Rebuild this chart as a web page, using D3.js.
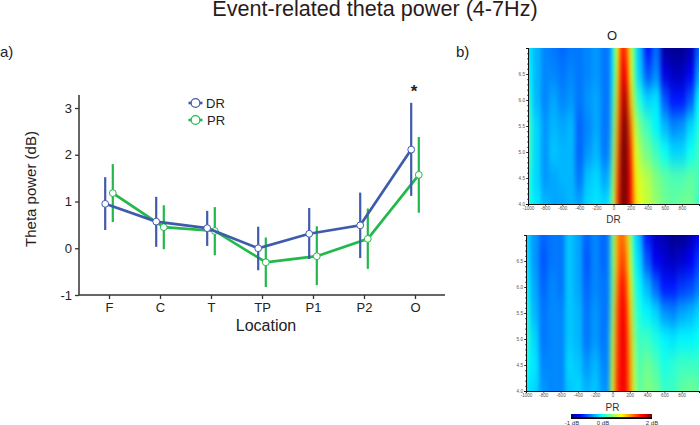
<!DOCTYPE html>
<html>
<head>
<meta charset="utf-8">
<script src="https://cdn.jsdelivr.net/npm/d3@7"></script>
<style>
body { margin: 0; background: #fff; }
svg { display: block; font-family: "Liberation Sans", Arial, sans-serif; }
</style>
</head>
<body>
<div id="chart"></div>
<script>
// line chart data
const locations = ["F", "C", "T", "TP", "P1", "P2", "O"];
const drMean = [0.95, 0.57, 0.43, 0.0, 0.31, 0.49, 2.11];
const drLow = [0.39, 0.03, 0.05, -0.47, -0.23, -0.21, 1.12];
const drHigh = [1.52, 1.10, 0.80, 0.46, 0.86, 1.19, 3.11];
const prMean = [1.18, 0.45, 0.37, -0.30, -0.17, 0.20, 1.57];
const prLow = [0.56, -0.02, -0.15, -0.83, -0.79, -0.44, 0.76];
const prHigh = [1.80, 0.92, 0.88, 0.23, 0.47, 0.85, 2.38];
const yTicks = [-1, 0, 1, 2, 3];

// heatmap data, dB, one row per frequency, one column per time
const times = [-1000, -900, -800, -700, -600, -500, -400, -300, -200, -100, -50, 0, 50, 100, 150, 200, 250, 300, 400, 500, 600, 700, 800, 900, 1000];
const freqs = [7, 6.5, 6, 5.5, 5, 4.5, 4];
const drGrid = [
    [0.05, -0.1, -0.25, -0.3, -0.35, -0.3, -0.3, -0.25, -0.2, -0.3, -0.3, 0.2, 0.9, 1.6, 1.4, 0.8, 0.25, -0.1, -0.6, -0.35, -0.95, -1.0, -1.0, -0.9, -0.4],
    [0.1, -0.1, -0.25, -0.25, -0.3, -0.25, -0.3, -0.25, -0.2, -0.3, -0.3, 0.2, 1.0, 1.7, 1.6, 0.9, 0.3, -0.05, -0.4, -0.25, -0.75, -0.85, -0.85, -0.7, -0.2],
    [0.2, -0.1, -0.25, -0.15, -0.25, -0.2, -0.3, -0.2, -0.15, -0.3, -0.3, 0.3, 1.1, 1.8, 1.85, 1.05, 0.5, 0.2, 0.0, 0.05, -0.4, -0.6, -0.6, -0.4, 0.1],
    [0.3, 0.0, -0.2, -0.1, -0.15, -0.1, -0.35, -0.25, -0.15, -0.3, -0.3, 0.4, 1.2, 1.9, 2.0, 1.3, 0.75, 0.45, 0.3, 0.1, -0.1, -0.25, -0.2, 0.0, 0.2],
    [0.3, 0.0, -0.2, -0.05, -0.1, -0.1, -0.35, -0.2, -0.1, -0.3, -0.25, 0.5, 1.3, 2.0, 2.05, 1.5, 0.85, 0.6, 0.45, 0.3, 0.15, 0.0, 0.0, 0.15, 0.3],
    [0.2, 0.0, -0.2, -0.15, -0.1, -0.1, -0.3, -0.05, 0.0, -0.15, -0.1, 0.6, 1.4, 2.0, 2.05, 1.6, 0.95, 0.75, 0.65, 0.5, 0.4, 0.35, 0.35, 0.4, 0.35],
    [0.2, 0.05, -0.1, -0.15, -0.15, -0.1, -0.15, 0.0, 0.05, 0.0, 0.05, 0.7, 1.5, 2.0, 2.0, 1.6, 1.05, 0.8, 0.7, 0.55, 0.45, 0.4, 0.45, 0.45, 0.3]
];
const prGrid = [
    [0.0, -0.2, -0.35, -0.3, -0.3, -0.05, -0.15, -0.35, -0.25, -0.35, -0.3, 0.4, 1.1, 1.35, 1.2, 0.7, 0.1, -0.1, -0.6, -0.85, -0.9, -1.0, -1.0, -0.9, -0.7],
    [0.05, -0.2, -0.4, -0.3, -0.3, -0.05, -0.15, -0.4, -0.25, -0.35, -0.3, 0.4, 1.1, 1.45, 1.35, 0.8, 0.2, 0.0, -0.4, -0.7, -0.8, -0.85, -0.8, -0.7, -0.5],
    [0.1, -0.15, -0.35, -0.25, -0.3, -0.05, -0.15, -0.35, -0.25, -0.3, -0.3, 0.4, 1.2, 1.6, 1.5, 0.95, 0.35, 0.1, -0.1, -0.35, -0.6, -0.6, -0.5, -0.45, -0.3],
    [0.2, -0.1, -0.3, -0.25, -0.25, -0.05, -0.1, -0.3, -0.2, -0.3, -0.3, 0.5, 1.3, 1.65, 1.6, 1.05, 0.45, 0.2, 0.1, 0.0, -0.2, -0.25, -0.15, -0.1, 0.0],
    [0.25, 0.0, -0.3, -0.25, -0.25, -0.05, -0.1, -0.3, -0.2, -0.3, -0.25, 0.6, 1.35, 1.65, 1.65, 1.15, 0.55, 0.3, 0.3, 0.2, 0.1, 0.05, 0.1, 0.1, 0.15],
    [0.15, 0.05, -0.25, -0.25, -0.25, 0.0, -0.05, -0.2, -0.1, -0.25, -0.25, 0.7, 1.4, 1.65, 1.65, 1.2, 0.65, 0.35, 0.45, 0.35, 0.2, 0.25, 0.3, 0.3, 0.3],
    [0.05, 0.0, -0.2, -0.25, -0.25, -0.05, 0.0, -0.1, -0.05, -0.2, -0.2, 0.75, 1.45, 1.65, 1.65, 1.25, 0.7, 0.4, 0.5, 0.45, 0.3, 0.3, 0.4, 0.45, 0.4]
];
const timeTicks = [-1000, -800, -600, -400, -200, 0, 200, 400, 600, 800];
const freqTicks = [4, 4.5, 5, 5.5, 6, 6.5];
const colorStops = [-1, -0.67, 0.125, 0.875, 1.625, 2];
const colorValues = ["#00008f", "#0000ff", "#00ffff", "#ffff00", "#ff0000", "#800000"];

const blue = "#3f5bab";
const green = "#22b84a";
const axisColor = "#333";

const svg = d3.select("#chart").append("svg")
    .attr("width", 700)
    .attr("height", 425);

const defs = svg.append("defs");
defs.append("filter")
    .attr("id", "soften")
    .attr("filterUnits", "userSpaceOnUse")
    .attr("x", 460).attr("y", 0).attr("width", 300).attr("height", 425)
    .attr("color-interpolation-filters", "sRGB")
    .append("feGaussianBlur")
    .attr("stdDeviation", "2.2 9");

// titles
svg.append("text").attr("x", 375).attr("y", 16)
    .attr("text-anchor", "middle").attr("font-size", 21.6).attr("fill", "#2a1a1a")
    .text("Event-related theta power (4-7Hz)");
svg.append("text").attr("x", 0).attr("y", 57).attr("font-size", 15).attr("fill", "#222").text("a)");
svg.append("text").attr("x", 456).attr("y", 57).attr("font-size", 15).attr("fill", "#222").text("b)");

// ---- line chart ----
const x = d3.scalePoint().domain(locations).range([109, 415]);
const y = d3.scaleLinear().domain([-1, 3]).range([295, 108]);
const offset = 3.8;

const xAxis = d3.axisBottom(x).tickSize(4).tickPadding(4);
const yAxis = d3.axisLeft(y).tickValues(yTicks).tickSize(4).tickPadding(3).tickFormat(String);

const xG = svg.append("g").attr("transform", "translate(0,295)").call(xAxis);
const yG = svg.append("g").attr("transform", "translate(79,0)").call(yAxis);
xG.select(".domain").attr("d", "M79,0H445");
yG.select(".domain").attr("d", `M0,${y(-1)}V95`);
[xG, yG].forEach(function(g) {
    g.selectAll(".domain").attr("stroke", axisColor).attr("stroke-width", 1.5);
    g.selectAll("line").attr("stroke", axisColor).attr("stroke-width", 1.3);
    g.selectAll("text").attr("font-size", 13).attr("fill", "#222")
        .attr("font-family", "Liberation Sans");
});

svg.append("text")
    .attr("transform", "translate(36,189) rotate(-90)")
    .attr("text-anchor", "middle").attr("font-size", 15).attr("fill", "#222")
    .text("Theta power (dB)");
svg.append("text").attr("x", 266).attr("y", 331)
    .attr("text-anchor", "middle").attr("font-size", 16).attr("fill", "#222")
    .text("Location");

function drawSeries(mean, low, high, color, dx) {
    const g = svg.append("g");
    const px = function(i) { return x(locations[i]) + dx; };
    const line = d3.line().x(function(d, i) { return px(i); }).y(function(d) { return y(d); });
    g.selectAll(".err").data(mean).enter().append("line")
        .attr("class", "err")
        .attr("x1", function(d, i) { return px(i); })
        .attr("x2", function(d, i) { return px(i); })
        .attr("y1", function(d, i) { return y(low[i]); })
        .attr("y2", function(d, i) { return y(high[i]); })
        .attr("stroke", color).attr("stroke-width", 2.2);
    g.append("path").datum(mean)
        .attr("d", line).attr("fill", "none")
        .attr("stroke", color).attr("stroke-width", 2.7);
    g.selectAll("circle").data(mean).enter().append("circle")
        .attr("cx", function(d, i) { return px(i); })
        .attr("cy", function(d) { return y(d); })
        .attr("r", 3.4)
        .attr("fill", "#fff").attr("stroke", color).attr("stroke-width", 1);
}
drawSeries(prMean, prLow, prHigh, green, offset);
drawSeries(drMean, drLow, drHigh, blue, -offset);

svg.append("text").attr("x", 414).attr("y", 97)
    .attr("text-anchor", "middle").attr("font-size", 17).attr("font-weight", "bold").attr("fill", "#222")
    .text("*");

// legend
const legend = [["DR", blue, 103, 206], ["PR", green, 120, 207]];
legend.forEach(function(d) {
    svg.append("line").attr("x1", 188.5).attr("x2", 202.5).attr("y1", d[2]).attr("y2", d[2])
        .attr("stroke", d[1]).attr("stroke-width", 2.6);
    svg.append("circle").attr("cx", 195.5).attr("cy", d[2]).attr("r", 4.4)
        .attr("fill", "#fff").attr("stroke", d[1]).attr("stroke-width", 1.2);
    svg.append("text").attr("x", d[3]).attr("y", d[2] + 4.5)
        .attr("font-size", 13).attr("fill", "#222").text(d[0]);
});

// ---- heatmaps ----
const color = d3.scaleLinear().domain(colorStops).range(colorValues).clamp(true);

function drawHeatmap(grid, id, left, right, top, bottom, label, labelY) {
    const tx = d3.scaleLinear().domain([-1000, 1000]).range([left, right]);
    const fy = d3.scaleLinear().domain([4, 7]).range([bottom, top]);
    const bleed = 40;

    defs.append("clipPath").attr("id", id)
        .append("rect").attr("x", left).attr("y", top)
        .attr("width", right - left).attr("height", bottom - top);

    // cell edges are halfway between neighbouring times and freqs
    const xEdge = function(i) {
        if (i <= 0) return left - bleed;
        if (i >= times.length) return right + bleed;
        return tx((times[i - 1] + times[i]) / 2);
    };
    const yEdge = function(j) {
        if (j <= 0) return top - bleed;
        if (j >= freqs.length) return bottom + bleed;
        return fy((freqs[j - 1] + freqs[j]) / 2);
    };

    const cells = svg.append("g").attr("clip-path", `url(#${id})`)
        .append("g").attr("filter", "url(#soften)");
    const rows = cells.selectAll("g").data(grid).enter().append("g");
    rows.each(function(row, j) {
        d3.select(this).selectAll("rect").data(row).enter().append("rect")
            .attr("x", function(d, i) { return xEdge(i); })
            .attr("width", function(d, i) { return xEdge(i + 1) - xEdge(i) + 0.5; })
            .attr("y", yEdge(j))
            .attr("height", yEdge(j + 1) - yEdge(j) + 0.5)
            .attr("fill", function(d) { return color(d); });
    });

    const bx = d3.axisBottom(tx).tickValues(timeTicks).tickSize(2).tickPadding(1)
        .tickFormat(String);
    const by = d3.axisLeft(fy).tickValues(freqTicks).tickSize(2).tickPadding(1)
        .tickFormat(d3.format(".1f"));
    const bxMinor = d3.axisBottom(tx).tickValues(d3.range(-1000, 1000, 100)).tickSize(1).tickFormat("");
    const byMinor = d3.axisLeft(fy).tickValues(d3.range(4, 7, 0.1)).tickSize(1).tickFormat("");

    [bx, bxMinor].forEach(function(a) {
        svg.append("g").attr("class", "hm").attr("transform", `translate(0,${bottom})`).call(a);
    });
    [by, byMinor].forEach(function(a) {
        svg.append("g").attr("class", "hm").attr("transform", `translate(${left},0)`).call(a);
    });

    svg.append("text").attr("x", tx(0)).attr("y", labelY)
        .attr("text-anchor", "middle").attr("font-size", 10).attr("fill", "#333")
        .text(label);
}

drawHeatmap(drGrid, "clipDr", 528, 699, 48, 204, "DR", 223);
drawHeatmap(prGrid, "clipPr", 526, 699, 235, 391, "PR", 411);

svg.selectAll(".hm .domain").attr("stroke", "#111").attr("stroke-width", 1);
svg.selectAll(".hm line").attr("stroke", "#111").attr("stroke-width", 0.7);
svg.selectAll(".hm text").attr("font-size", 4.6).attr("fill", "#555")
    .attr("font-family", "Liberation Sans");

svg.append("text").attr("x", 612).attr("y", 40)
    .attr("text-anchor", "middle").attr("font-size", 13).attr("fill", "#222").text("O");

// colour bar
const barX = d3.scaleLinear().domain([-1, 2]).range([571, 652]);
const grad = defs.append("linearGradient").attr("id", "barGrad");
grad.selectAll("stop").data(colorStops).enter().append("stop")
    .attr("offset", function(d) { return (d + 1) / 3; })
    .attr("stop-color", function(d, i) { return colorValues[i]; });
svg.append("rect").attr("x", barX(-1)).attr("y", 414)
    .attr("width", barX(2) - barX(-1)).attr("height", 5).attr("fill", "#000");
svg.append("rect").attr("x", barX(-1)).attr("y", 414)
    .attr("width", barX(2) - barX(-1)).attr("height", 3.2).attr("fill", "url(#barGrad)");
const barLabels = [["-1 dB", 572], ["0 dB", 603], ["2 dB", 652]];
barLabels.forEach(function(d) {
    svg.append("text").attr("x", d[1]).attr("y", 424.5)
        .attr("text-anchor", "middle").attr("font-size", 6).attr("fill", "#333").text(d[0]);
});
</script>
</body>
</html>
